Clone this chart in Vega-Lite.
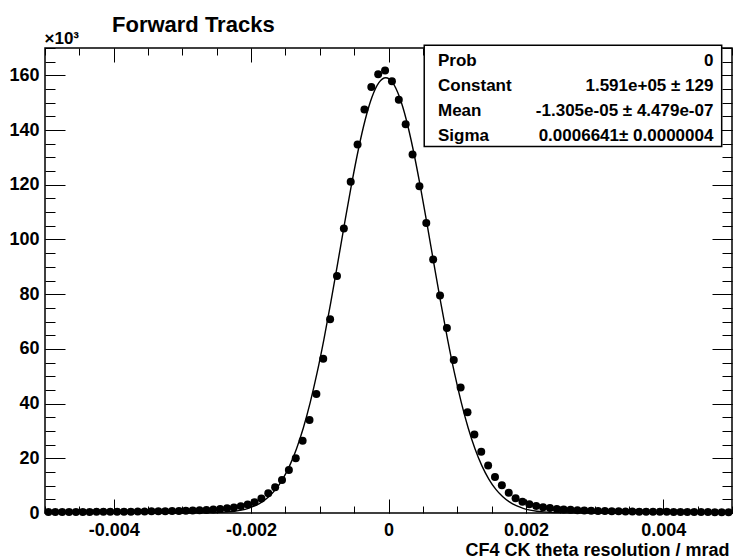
{
  "$schema": "https://vega.github.io/schema/vega-lite/v6.json",
  "width": 687,
  "height": 465,
  "autosize": {"type": "none"},
  "padding": {"left": 45, "top": 48, "right": 1, "bottom": 46},
  "background": "white",
  "config": {
    "font": "Liberation Sans",
    "view": {"stroke": "black", "strokeWidth": 1.5},
    "axis": {"domain": false, "grid": false, "tickColor": "black", "tickWidth": 1, "labelFont": "Liberation Sans", "labelFontWeight": "bold", "labelFontSize": 18, "labelColor": "black", "labelOverlap": false, "titleColor": "black", "titleFont": "Liberation Sans", "titleFontWeight": "bold"}
  },
  "title": {"text": "Forward Tracks", "anchor": "start", "frame": "group", "dx": 67, "dy": 25, "offset": 0, "baseline": "alphabetic", "fontSize": 22, "fontWeight": "bold", "font": "Liberation Sans", "color": "black"},
  "datasets": {
    "hist": [
      {"x": -0.00495, "y": 0.35}, {"x": -0.00485, "y": 0.35}, {"x": -0.00475, "y": 0.35}, {"x": -0.00465, "y": 0.4}, {"x": -0.00455, "y": 0.4},
      {"x": -0.00445, "y": 0.4}, {"x": -0.00435, "y": 0.4}, {"x": -0.00425, "y": 0.45}, {"x": -0.00415, "y": 0.45}, {"x": -0.00405, "y": 0.45},
      {"x": -0.00395, "y": 0.5}, {"x": -0.00385, "y": 0.5}, {"x": -0.00375, "y": 0.5}, {"x": -0.00365, "y": 0.55}, {"x": -0.00355, "y": 0.55},
      {"x": -0.00345, "y": 0.6}, {"x": -0.00335, "y": 0.6}, {"x": -0.00325, "y": 0.65}, {"x": -0.00315, "y": 0.7}, {"x": -0.00305, "y": 0.75},
      {"x": -0.00295, "y": 0.8}, {"x": -0.00285, "y": 0.9}, {"x": -0.00275, "y": 1.0}, {"x": -0.00265, "y": 1.1}, {"x": -0.00255, "y": 1.25},
      {"x": -0.00245, "y": 1.45}, {"x": -0.00235, "y": 1.7}, {"x": -0.00225, "y": 2.0}, {"x": -0.00215, "y": 2.5}, {"x": -0.00205, "y": 3.1},
      {"x": -0.00195, "y": 3.9}, {"x": -0.00185, "y": 5.3}, {"x": -0.00175, "y": 7.2}, {"x": -0.00165, "y": 9.4}, {"x": -0.00155, "y": 12.1},
      {"x": -0.00145, "y": 15.7}, {"x": -0.00135, "y": 20.0}, {"x": -0.00125, "y": 26.4}, {"x": -0.00115, "y": 34.0}, {"x": -0.00105, "y": 43.5},
      {"x": -0.00095, "y": 56.4}, {"x": -0.00085, "y": 70.8}, {"x": -0.00075, "y": 86.6}, {"x": -0.00065, "y": 104.0}, {"x": -0.00055, "y": 121.1},
      {"x": -0.00045, "y": 134.7}, {"x": -0.00035, "y": 147.5}, {"x": -0.00025, "y": 155.7}, {"x": -0.00015, "y": 160.4}, {"x": -0.00005, "y": 161.8},
      {"x": 0.00005, "y": 157.8}, {"x": 0.00015, "y": 151.1}, {"x": 0.00025, "y": 142.1}, {"x": 0.00035, "y": 131.1}, {"x": 0.00045, "y": 119.5},
      {"x": 0.00055, "y": 106.0}, {"x": 0.00065, "y": 92.7}, {"x": 0.00075, "y": 79.5}, {"x": 0.00085, "y": 67.6}, {"x": 0.00095, "y": 55.9},
      {"x": 0.00105, "y": 45.9}, {"x": 0.00115, "y": 36.8}, {"x": 0.00125, "y": 28.7}, {"x": 0.00135, "y": 22.4}, {"x": 0.00145, "y": 17.4},
      {"x": 0.00155, "y": 13.2}, {"x": 0.00165, "y": 10.1}, {"x": 0.00175, "y": 7.4}, {"x": 0.00185, "y": 5.4}, {"x": 0.00195, "y": 4.1},
      {"x": 0.00205, "y": 3.2}, {"x": 0.00215, "y": 2.6}, {"x": 0.00225, "y": 2.1}, {"x": 0.00235, "y": 1.8}, {"x": 0.00245, "y": 1.5},
      {"x": 0.00255, "y": 1.3}, {"x": 0.00265, "y": 1.15}, {"x": 0.00275, "y": 1.0}, {"x": 0.00285, "y": 0.9}, {"x": 0.00295, "y": 0.8},
      {"x": 0.00305, "y": 0.75}, {"x": 0.00315, "y": 0.7}, {"x": 0.00325, "y": 0.65}, {"x": 0.00335, "y": 0.6}, {"x": 0.00345, "y": 0.55},
      {"x": 0.00355, "y": 0.55}, {"x": 0.00365, "y": 0.5}, {"x": 0.00375, "y": 0.5}, {"x": 0.00385, "y": 0.45}, {"x": 0.00395, "y": 0.45},
      {"x": 0.00405, "y": 0.45}, {"x": 0.00415, "y": 0.4}, {"x": 0.00425, "y": 0.4}, {"x": 0.00435, "y": 0.4}, {"x": 0.00445, "y": 0.35},
      {"x": 0.00455, "y": 0.35}, {"x": 0.00465, "y": 0.35}, {"x": 0.00475, "y": 0.3}, {"x": 0.00485, "y": 0.3}, {"x": 0.00495, "y": 0.3}
    ],
    "fit": [
      {"x": -0.005, "f": 0}, {"x": -0.00304, "f": 0.006}, {"x": -0.00254, "f": 0.13}, {"x": -0.00244, "f": 0.23}, {"x": -0.00234, "f": 0.4},
      {"x": -0.00224, "f": 0.66}, {"x": -0.00214, "f": 1.07}, {"x": -0.00204, "f": 1.71}, {"x": -0.00194, "f": 2.66}, {"x": -0.00184, "f": 4.04},
      {"x": -0.00174, "f": 6.01}, {"x": -0.00164, "f": 8.73}, {"x": -0.00154, "f": 12.41}, {"x": -0.00144, "f": 17.24}, {"x": -0.00134, "f": 23.42},
      {"x": -0.00124, "f": 31.09}, {"x": -0.00114, "f": 40.36}, {"x": -0.00104, "f": 51.21}, {"x": -0.00094, "f": 63.51}, {"x": -0.00084, "f": 77.01},
      {"x": -0.00074, "f": 91.29}, {"x": -0.00064, "f": 105.79}, {"x": -0.00054, "f": 119.83}, {"x": -0.00044, "f": 132.71}, {"x": -0.00034, "f": 143.67},
      {"x": -0.00024, "f": 152.05}, {"x": -0.00014, "f": 157.31}, {"x": -0.00004, "f": 159.1}, {"x": 0.00006, "f": 157.31}, {"x": 0.00016, "f": 152.05},
      {"x": 0.00026, "f": 143.67}, {"x": 0.00036, "f": 132.71}, {"x": 0.00046, "f": 119.83}, {"x": 0.00056, "f": 105.79}, {"x": 0.00066, "f": 91.29},
      {"x": 0.00076, "f": 77.01}, {"x": 0.00086, "f": 63.51}, {"x": 0.00096, "f": 51.21}, {"x": 0.00106, "f": 40.36}, {"x": 0.00116, "f": 31.09},
      {"x": 0.00126, "f": 23.42}, {"x": 0.00136, "f": 17.24}, {"x": 0.00146, "f": 12.41}, {"x": 0.00156, "f": 8.73}, {"x": 0.00166, "f": 6.01},
      {"x": 0.00176, "f": 4.04}, {"x": 0.00186, "f": 2.66}, {"x": 0.00196, "f": 1.71}, {"x": 0.00206, "f": 1.07}, {"x": 0.00216, "f": 0.66},
      {"x": 0.00226, "f": 0.4}, {"x": 0.00236, "f": 0.23}, {"x": 0.00246, "f": 0.13}, {"x": 0.00296, "f": 0.006}, {"x": 0.005, "f": 0}
    ],
    "stats": [
      {"name": "Prob", "value": "0"},
      {"name": "Constant", "value": "1.591e+05 ± 129"},
      {"name": "Mean", "value": "-1.305e-05 ± 4.479e-07"},
      {"name": "Sigma", "value": "0.0006641± 0.0000004"}
    ]
  },
  "resolve": {"scale": {"y": "independent"}, "axis": {"x": "independent", "y": "independent"}},
  "layer": [
    {
      "data": {"name": "fit"},
      "mark": {"type": "line", "color": "black", "strokeWidth": 1.4, "interpolate": "monotone"},
      "encoding": {
        "x": {"field": "x", "type": "quantitative", "scale": {"domain": [-0.005, 0.005], "nice": false, "zero": false},
              "axis": {"orient": "bottom", "values": [-0.005, -0.0045, -0.004, -0.0035, -0.003, -0.0025, -0.002, -0.0015, -0.001, -0.0005, 0, 0.0005, 0.001, 0.0015, 0.002, 0.0025, 0.003, 0.0035, 0.004, 0.0045, 0.005], "tickSize": -7, "labels": false, "title": null}},
        "y": {"field": "f", "type": "quantitative", "scale": {"domain": [0, 170], "nice": false, "zero": false},
              "axis": {"orient": "left", "values": [0, 5, 10, 15, 20, 25, 30, 35, 40, 45, 50, 55, 60, 65, 70, 75, 80, 85, 90, 95, 100, 105, 110, 115, 120, 125, 130, 135, 140, 145, 150, 155, 160, 165, 170], "tickSize": -10, "labels": false, "title": null}}
      }
    },
    {
      "data": {"name": "hist"},
      "mark": {"type": "circle", "color": "black", "opacity": 1, "size": 64},
      "encoding": {
        "x": {"field": "x", "type": "quantitative", "scale": {"domain": [-0.005, 0.005], "nice": false, "zero": false},
              "axis": {"orient": "bottom", "values": [-0.004, -0.002, 0, 0.002, 0.004], "tickSize": -14, "labelPadding": 22,
                       "labelExpr": "datum.value < 0 ? '-' + format(-datum.value, '.3f') : (datum.value == 0 ? '0' : format(datum.value, '.3f'))",
                       "title": "CF4 CK theta resolution / mrad", "titleFontSize": 18, "titleX": 684, "titleY": 42, "titleAlign": "right", "titleBaseline": "alphabetic", "titleAngle": 0}},
        "y": {"field": "y", "type": "quantitative", "scale": {"domain": [0, 170], "nice": false, "zero": false},
              "axis": {"orient": "left", "values": [0, 20, 40, 60, 80, 100, 120, 140, 160], "tickSize": -20, "labelPadding": 26,
                       "title": "×10³", "titleFontSize": 17, "titleX": -1, "titleY": -5, "titleAlign": "left", "titleBaseline": "alphabetic", "titleAngle": 0}}
      }
    },
    {
      "data": {"name": "hist"},
      "mark": {"type": "circle", "opacity": 0},
      "encoding": {
        "x": {"field": "x", "type": "quantitative", "scale": {"domain": [-0.005, 0.005], "nice": false, "zero": false},
              "axis": {"orient": "top", "values": [-0.004, -0.002, 0, 0.002, 0.004], "tickSize": -14, "labels": false, "title": null}},
        "y": {"field": "y", "type": "quantitative", "scale": {"domain": [0, 170], "nice": false, "zero": false},
              "axis": {"orient": "right", "values": [0, 20, 40, 60, 80, 100, 120, 140, 160], "tickSize": -20, "labels": false, "title": null}}
      }
    },
    {
      "data": {"name": "hist"},
      "mark": {"type": "circle", "opacity": 0},
      "encoding": {
        "x": {"field": "x", "type": "quantitative", "scale": {"domain": [-0.005, 0.005], "nice": false, "zero": false},
              "axis": {"orient": "top", "values": [-0.005, -0.0045, -0.004, -0.0035, -0.003, -0.0025, -0.002, -0.0015, -0.001, -0.0005, 0, 0.0005, 0.001, 0.0015, 0.002, 0.0025, 0.003, 0.0035, 0.004, 0.0045, 0.005], "tickSize": -7, "labels": false, "title": null}},
        "y": {"field": "y", "type": "quantitative", "scale": {"domain": [0, 170], "nice": false, "zero": false},
              "axis": {"orient": "right", "values": [0, 5, 10, 15, 20, 25, 30, 35, 40, 45, 50, 55, 60, 65, 70, 75, 80, 85, 90, 95, 100, 105, 110, 115, 120, 125, 130, 135, 140, 145, 150, 155, 160, 165, 170], "tickSize": -10, "labels": false, "title": null}}
      }
    },
    {
      "data": {"values": [{}]},
      "mark": {"type": "rect", "fill": "white", "stroke": "black", "strokeWidth": 1.5},
      "encoding": {
        "x": {"datum": 0.00052, "type": "quantitative", "scale": {"domain": [-0.005, 0.005], "nice": false, "zero": false}, "axis": null},
        "x2": {"datum": 0.00485},
        "y": {"datum": 171, "type": "quantitative", "scale": {"domain": [0, 170], "nice": false, "zero": false}, "axis": null},
        "y2": {"datum": 134}
      }
    },
    {
      "data": {"name": "stats"},
      "mark": {"type": "text", "align": "left", "baseline": "middle", "fontSize": 17, "fontWeight": "bold", "color": "black", "font": "Liberation Sans"},
      "encoding": {
        "x": {"datum": 0.00072, "type": "quantitative", "scale": {"domain": [-0.005, 0.005], "nice": false, "zero": false}, "axis": null},
        "y": {"field": "name", "type": "ordinal", "sort": null, "scale": {"type": "point", "domain": ["Prob", "Constant", "Mean", "Sigma"], "range": [13, 88], "padding": 0}, "axis": null},
        "text": {"field": "name"}
      }
    },
    {
      "data": {"name": "stats"},
      "mark": {"type": "text", "align": "right", "baseline": "middle", "fontSize": 17, "fontWeight": "bold", "color": "black", "font": "Liberation Sans"},
      "encoding": {
        "x": {"datum": 0.00473, "type": "quantitative", "scale": {"domain": [-0.005, 0.005], "nice": false, "zero": false}, "axis": null},
        "y": {"field": "name", "type": "ordinal", "sort": null, "scale": {"type": "point", "domain": ["Prob", "Constant", "Mean", "Sigma"], "range": [13, 88], "padding": 0}, "axis": null},
        "text": {"field": "value"}
      }
    }
  ]
}
